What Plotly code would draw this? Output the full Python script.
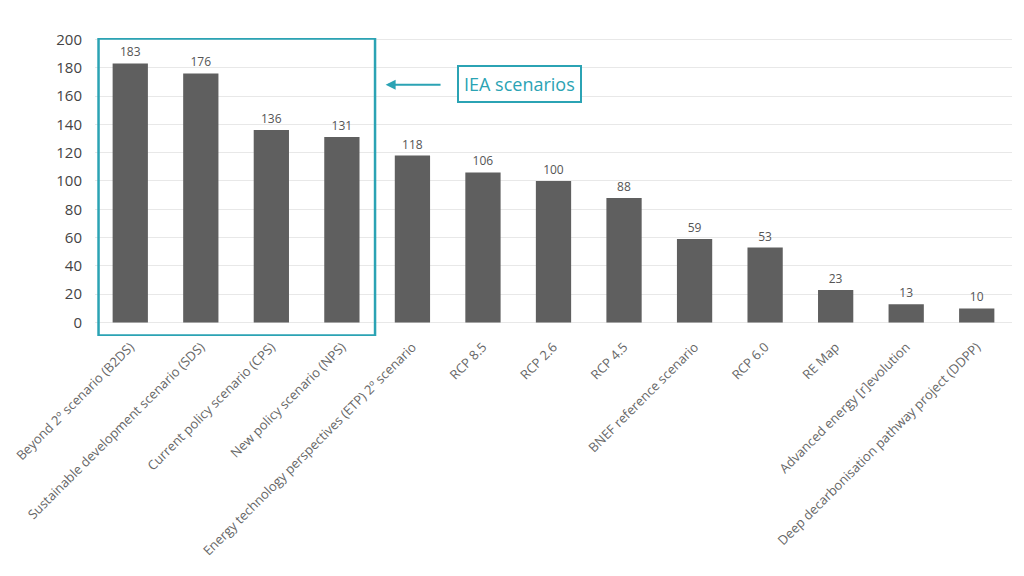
import plotly.graph_objects as go

# Scenario names (x categories) and their values
scenarios = [
    "Beyond 2º scenario (B2DS)",
    "Sustainable development scenario (SDS)",
    "Current policy scenario (CPS)",
    "New policy scenario (NPS)",
    "Energy technology perspectives (ETP) 2º scenario",
    "RCP 8.5",
    "RCP 2.6",
    "RCP 4.5",
    "BNEF reference scenario",
    "RCP 6.0",
    "RE Map",
    "Advanced energy [r]evolution",
    "Deep decarbonisation pathway project (DDPP)",
]
values = [183, 176, 136, 131, 118, 106, 100, 88, 59, 53, 23, 13, 10]
y_ticks = [0, 20, 40, 60, 80, 100, 120, 140, 160, 180, 200]

TEAL = "#2ba3b4"
FONT = "Open Sans"

fig = go.Figure(
    go.Bar(
        x=list(range(len(scenarios))),
        y=values,
        marker=dict(color="#5f5f5f", line=dict(width=0)),
        text=values,
        textposition="outside",
        textfont=dict(family=FONT, size=12, color="#555555"),
        cliponaxis=False,
    )
)

# box around the IEA scenarios (first four bars)
fig.add_shape(
    type="rect", xref="x", yref="y",
    x0=-0.45, x1=3.47, y0=-9.2, y1=200.7,
    line=dict(color=TEAL, width=2.5),
)

# arrow pointing at the box
fig.add_annotation(
    x=3.62, y=168, xref="x", yref="y",
    ax=4.42, ay=168, axref="x", ayref="y",
    text="", showarrow=True,
    arrowhead=2, arrowsize=1, arrowwidth=2, arrowcolor=TEAL,
)

fig.add_annotation(
    x=5.52, y=168.7, xref="x", yref="y",
    text="IEA scenarios", showarrow=False,
    font=dict(family=FONT, size=18, color=TEAL),
    bordercolor=TEAL, borderwidth=2, borderpad=5,
    bgcolor="white",
)

fig.update_xaxes(
    tickmode="array",
    tickvals=list(range(len(scenarios))),
    ticktext=scenarios,
    tickangle=-45,
    tickfont=dict(family=FONT, size=13, color="#666666"),
    range=[-0.5, len(scenarios) - 0.5],
    showgrid=False,
    showline=False,
    zeroline=False,
)
fig.update_yaxes(
    range=[-9.5, 201],
    tickvals=y_ticks,
    tickfont=dict(family=FONT, size=15, color="#444444"),
    showgrid=True,
    gridcolor="#e8e8e8",
    gridwidth=1,
    zeroline=False,
    showline=False,
    ticklabelstandoff=12,
)

# page body has an 8px margin, so the figure is 16px smaller than the window
fig.update_layout(
    width=1008,
    height=560,
    margin=dict(l=84, r=4, t=30, b=232),
    bargap=0.5,
    plot_bgcolor="white",
    paper_bgcolor="white",
    showlegend=False,
    font=dict(family=FONT),
)

fig.write_html("out.html")
